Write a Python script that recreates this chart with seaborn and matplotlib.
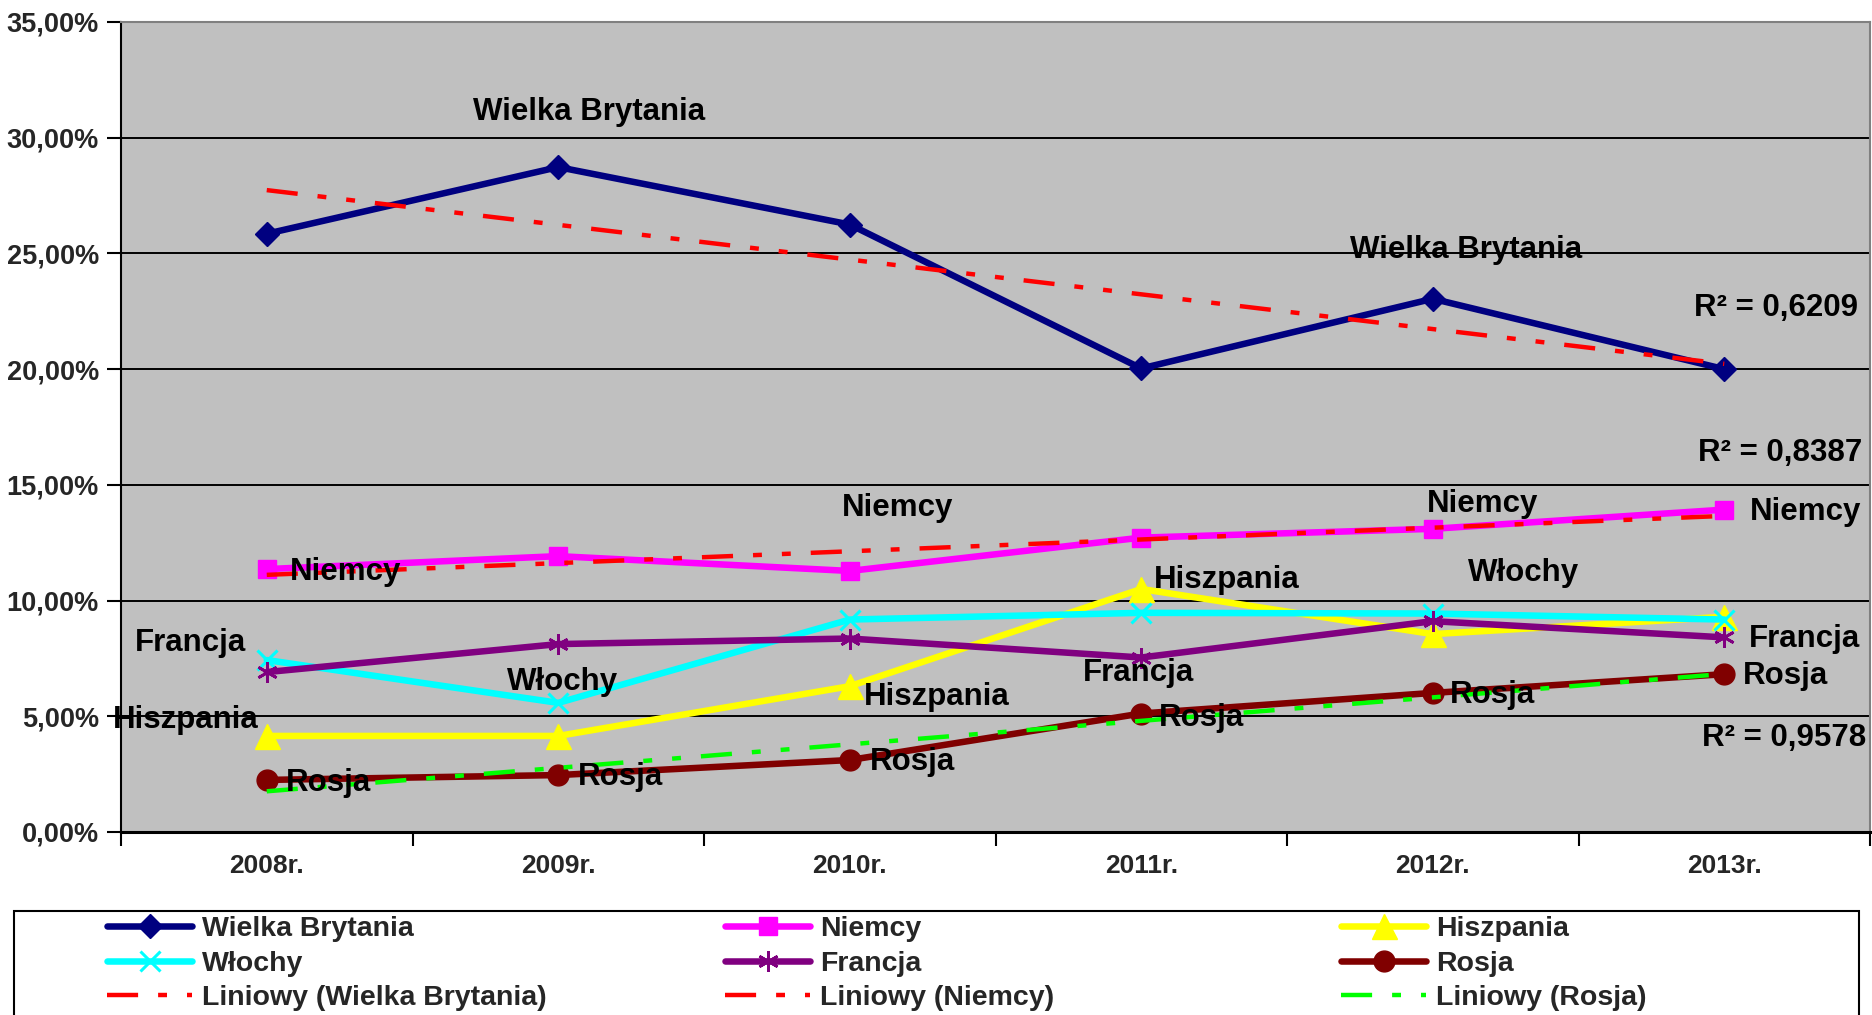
import numpy as np
import matplotlib
matplotlib.use("Agg")
import matplotlib.pyplot as plt
import seaborn as sns
from matplotlib.ticker import FixedLocator, FuncFormatter, NullFormatter
from matplotlib.patches import Rectangle

# ---------------- data ----------------
years = ["2008r.", "2009r.", "2010r.", "2011r.", "2012r.", "2013r."]
wielka_brytania = [25.85, 28.73, 26.25, 20.03, 23.04, 20.00]
niemcy = [11.36, 11.92, 11.28, 12.72, 13.10, 13.93]
hiszpania = [4.15, 4.15, 6.30, 10.50, 8.55, 9.30]
wlochy = [7.43, 5.58, 9.18, 9.47, 9.44, 9.18]
francja = [6.91, 8.12, 8.36, 7.54, 9.11, 8.41]
rosja = [2.25, 2.46, 3.11, 5.12, 6.01, 6.82]
series_names = ["Wielka Brytania", "Niemcy", "Hiszpania", "Włochy", "Francja", "Rosja"]
trend_names = ["Liniowy (Wielka Brytania)", "Liniowy (Niemcy)", "Liniowy (Rosja)"]
r2_labels = ["R² = 0,6209", "R² = 0,8387", "R² = 0,9578"]

# ---------------- style ----------------
sns.set_style("ticks")
plt.rcParams['font.family'] = ['Liberation Sans', 'DejaVu Sans']
plt.rcParams['font.weight'] = 'bold'

fig = plt.figure(figsize=(18.72, 10.15), dpi=100)
ax = fig.add_axes([121 / 1872, 1 - 832 / 1015, (1870 - 121) / 1872, (832 - 22) / 1015])
ax.set_facecolor('#C0C0C0')

x = np.arange(len(years))
all_vals = [wielka_brytania, niemcy, hiszpania, wlochy, francja, rosja]
styles = [
    dict(color='#000080', marker='D', markersize=12, markeredgewidth=1),
    dict(color='#FF00FF', marker='s', markersize=13, markeredgewidth=1),
    dict(color='#FFFF00', marker='^', markersize=18, markeredgewidth=1),
    dict(color='#00FFFF', marker='x', markersize=15, markeredgewidth=2.2),
    dict(color='#800080', marker=(6, 2, 0), markersize=15, markeredgewidth=2),
    dict(color='#800000', marker='o', markersize=15, markeredgewidth=1),
]
for name, vals, st in zip(series_names, all_vals, styles):
    sns.lineplot(x=x, y=vals, ax=ax, label=name, lw=4.7,
                 markeredgecolor=st['color'], zorder=3, **st)

trend_style = (0, (7, 4.5, 2, 4.5, 2, 4.5))
trend_vals = [wielka_brytania, niemcy, rosja]
trend_colors = ['#FF0000', '#FF0000', '#00FF00']
for name, vals, c in zip(trend_names, trend_vals, trend_colors):
    sns.regplot(x=x, y=np.array(vals), ax=ax, scatter=False, ci=None, truncate=True,
                color=c, label=name,
                line_kws=dict(lw=3.2, linestyle=trend_style, zorder=4))

handles, labels = ax.get_legend_handles_labels()
hmap = dict(zip(labels, handles))
if ax.get_legend() is not None:
    ax.get_legend().remove()

# ---------------- axes ----------------
ax.set_xlim(-0.5, 5.5)
ax.set_ylim(0, 35)
ax.set_xlabel("")
ax.set_ylabel("")
ax.set_yticks(np.arange(0, 36, 5))
ax.yaxis.set_major_formatter(FuncFormatter(lambda v, p: f"{v:.2f}%".replace('.', ',')))
ax.grid(axis='y', color='black', lw=1.4)
ax.grid(axis='x', visible=False)
ax.set_axisbelow(True)
ax.xaxis.set_major_locator(FixedLocator(np.arange(-0.5, 6, 1)))
ax.xaxis.set_major_formatter(NullFormatter())
ax.xaxis.set_minor_locator(FixedLocator(x))
ax.set_xticklabels(years, minor=True)
ax.tick_params(axis='x', which='minor', length=0, pad=16, labelsize=19)
ax.tick_params(axis='x', which='major', length=10, width=1.5, direction='out', color='black')
ax.tick_params(axis='y', length=10, width=1.5, pad=6, labelsize=19.5, direction='out', color='black')
ax.spines['left'].set_color('black')
ax.spines['left'].set_linewidth(1.5)
ax.spines['bottom'].set_color('black')
ax.spines['bottom'].set_linewidth(2.2)
for s in ['top', 'right']:
    ax.spines[s].set_visible(True)
    ax.spines[s].set_color('#808080')
    ax.spines[s].set_linewidth(1.5)

# ---------------- annotations ----------------
ann = [
    ("Wielka Brytania", 1.105, 31.09, 'center'),
    ("Wielka Brytania", 4.114, 25.13, 'center'),
    ("Niemcy", 0.08, 11.24, 'left'),
    ("Niemcy", 2.165, 14.02, 'center'),
    ("Niemcy", 4.172, 14.19, 'center'),
    ("Niemcy", 5.088, 13.83, 'left'),
    ("Francja", -0.071, 8.15, 'right'),
    ("Włochy", 1.013, 6.49, 'center'),
    ("Hiszpania", -0.277, 4.84, 'center'),
    ("Rosja", 0.066, 2.10, 'left'),
    ("Rosja", 1.068, 2.36, 'left'),
    ("Hiszpania", 3.044, 10.91, 'left'),
    ("Włochy", 4.121, 11.17, 'left'),
    ("Hiszpania", 2.049, 5.82, 'left'),
    ("Francja", 2.989, 6.85, 'center'),
    ("Francja", 5.085, 8.36, 'left'),
    ("Rosja", 2.07, 3.04, 'left'),
    ("Rosja", 3.06, 4.91, 'left'),
    ("Rosja", 4.06, 5.92, 'left'),
    ("Rosja", 5.063, 6.74, 'left'),
]
for t, xx, yy, ha in ann:
    ax.text(xx, yy, t, ha=ha, va='center', fontsize=22.5, fontweight='bold',
            color='black', zorder=6, clip_on=False)

r2_pos = [(5.459, 22.63), (5.473, 16.36), (5.486, 4.06)]
for t, (xx, yy) in zip(r2_labels, r2_pos):
    ax.text(xx, yy, t, ha='right', va='center', fontsize=22.5, fontweight='bold',
            color='black', zorder=6, clip_on=False)

# ---------------- legend ----------------
cols = [
    [series_names[0], series_names[3], trend_names[0]],
    [series_names[1], series_names[4], trend_names[1]],
    [series_names[2], series_names[5], trend_names[2]],
]
col_x = [107 / 1872, 725 / 1872, 1341 / 1872]
for names, cx in zip(cols, col_x):
    fig.legend([hmap[n] for n in names], names, loc='upper left',
               bbox_to_anchor=(cx, 1 - 916 / 1015), bbox_transform=fig.transFigure,
               frameon=False, ncol=1, handlelength=3.0,
               handletextpad=0.34, labelspacing=0.3, borderpad=0,
               borderaxespad=0, prop=dict(weight='bold', size=20.5))

fig.patches.append(Rectangle((14 / 1872, -0.05), (1859 - 14) / 1872, 0.05 + (1 - 911 / 1015),
                             transform=fig.transFigure, fill=False,
                             edgecolor='black', lw=1.5))

fig.savefig("out.png", dpi=100)
